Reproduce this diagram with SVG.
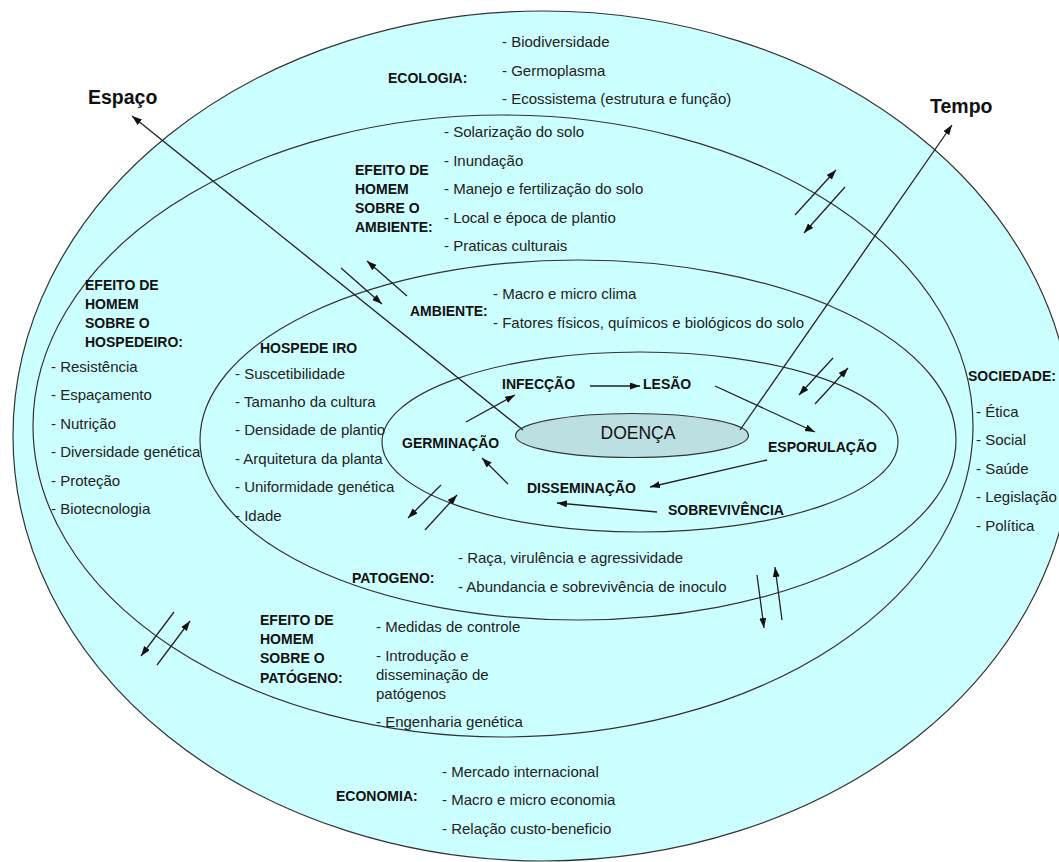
<svg xmlns="http://www.w3.org/2000/svg" width="1059" height="862" viewBox="0 0 1059 862">
<defs>
<marker id="ah" markerUnits="userSpaceOnUse" markerWidth="11" markerHeight="8" refX="10" refY="3.5" orient="auto">
<path d="M0,0 L10,3.5 L0,7 z" fill="#111"/>
</marker>
<style>
.ring{fill:#ccffff;stroke:#333;stroke-width:1.2}
.ln{fill:none;stroke:#222;stroke-width:1.3}
.ar{fill:none;stroke:#222;stroke-width:1.3;marker-end:url(#ah)}
.b{font-family:"Liberation Sans",Arial,sans-serif;font-weight:bold;font-size:14px;fill:#111}
.t{font-family:"Liberation Sans",Arial,sans-serif;font-size:15px;fill:#222}
.big{font-family:"Liberation Sans",Arial,sans-serif;font-weight:bold;font-size:19.5px;fill:#111}
</style>
</defs>
<rect width="1059" height="862" fill="#ffffff"/>

<g id="ring-sociedade">
<ellipse class="ring" cx="543" cy="436" rx="530" ry="425"/>
</g>
<g id="ring-efeito">
<ellipse class="ring" cx="503" cy="426" rx="470" ry="311"/>
</g>
<g id="ring-triangulo">
<ellipse class="ring" cx="578" cy="440" rx="378" ry="180"/>
</g>
<g id="ring-ciclo">
<ellipse class="ring" cx="640" cy="442" rx="258" ry="90"/>
</g>
<g id="doenca">
<ellipse cx="632" cy="435.5" rx="116.5" ry="22" fill="#bcdfe2" stroke="#333" stroke-width="1.2"/>
<text x="638" y="439" text-anchor="middle" font-family="Liberation Sans, Arial, sans-serif" font-size="17.5" fill="#111">DOENÇA</text>
</g>

<g id="connectors">
<line class="ar" x1="523" y1="430" x2="132" y2="116"/>
<line class="ar" x1="740" y1="430" x2="952" y2="125"/>
<line class="ar" x1="466" y1="422" x2="515" y2="395"/>
<line class="ar" x1="590" y1="386" x2="640" y2="386"/>
<line class="ar" x1="715" y1="386" x2="815" y2="432"/>
<line class="ar" x1="767" y1="460" x2="650" y2="487"/>
<line class="ar" x1="657" y1="512" x2="557" y2="503"/>
<line class="ar" x1="508" y1="484" x2="482" y2="458"/>
<line class="ar" x1="407" y1="296" x2="367" y2="261"/>
<line class="ar" x1="341" y1="268" x2="382" y2="304"/>
<line class="ar" x1="795" y1="215" x2="836" y2="170"/>
<line class="ar" x1="845" y1="187" x2="804" y2="233"/>
<line class="ar" x1="833" y1="358" x2="799" y2="395"/>
<line class="ar" x1="815" y1="404" x2="848" y2="368"/>
<line class="ar" x1="441" y1="485" x2="408" y2="518"/>
<line class="ar" x1="425" y1="530" x2="457" y2="495"/>
<line class="ar" x1="757" y1="575" x2="764" y2="628"/>
<line class="ar" x1="782" y1="620" x2="775" y2="567"/>
<line class="ar" x1="174" y1="612" x2="141" y2="656"/>
<line class="ar" x1="157" y1="665" x2="190" y2="621"/>
</g>

<g id="eixo-espaco"><text class="big" x="88" y="104">Espaço</text></g>
<g id="eixo-tempo"><text class="big" x="930" y="113">Tempo</text></g>

<g id="ecologia">
<text class="b" x="388" y="83">ECOLOGIA:</text>
<text class="t" x="502" y="47">- Biodiversidade</text>
<text class="t" x="502" y="75.5">- Germoplasma</text>
<text class="t" x="502" y="104">- Ecossistema (estrutura e função)</text>
</g>

<g id="efeito-ambiente">
<text class="b" x="355" y="175">EFEITO DE</text>
<text class="b" x="355" y="194">HOMEM</text>
<text class="b" x="355" y="213">SOBRE O</text>
<text class="b" x="355" y="232">AMBIENTE:</text>
<text class="t" x="444" y="137">- Solarização do solo</text>
<text class="t" x="444" y="165.5">- Inundação</text>
<text class="t" x="444" y="194">- Manejo e fertilização do solo</text>
<text class="t" x="444" y="222.5">- Local e época de plantio</text>
<text class="t" x="444" y="251">- Praticas culturais</text>
</g>

<g id="efeito-hospedeiro">
<text class="b" x="85" y="290">EFEITO DE</text>
<text class="b" x="85" y="309">HOMEM</text>
<text class="b" x="85" y="328">SOBRE O</text>
<text class="b" x="85" y="347">HOSPEDEIRO:</text>
<text class="t" x="51" y="372">- Resistência</text>
<text class="t" x="51" y="400">- Espaçamento</text>
<text class="t" x="51" y="428.5">- Nutrição</text>
<text class="t" x="51" y="457">- Diversidade genética</text>
<text class="t" x="51" y="485.5">- Proteção</text>
<text class="t" x="51" y="514">- Biotecnologia</text>
</g>

<g id="ambiente">
<text class="b" x="410" y="316">AMBIENTE:</text>
<text class="t" x="493" y="299">- Macro e micro clima</text>
<text class="t" x="493" y="328">- Fatores físicos, químicos e biológicos do solo</text>
</g>

<g id="hospedeiro">
<text class="b" x="260" y="353">HOSPEDE IRO</text>
<text class="t" x="235" y="378.5">- Suscetibilidade</text>
<text class="t" x="235" y="407">- Tamanho da cultura</text>
<text class="t" x="235" y="435">- Densidade de plantio</text>
<text class="t" x="235" y="463.5">- Arquitetura da planta</text>
<text class="t" x="235" y="492">- Uniformidade genética</text>
<text class="t" x="235" y="520.5">- Idade</text>
</g>

<g id="ciclo">
<text class="b" x="502" y="389">INFECÇÃO</text>
<text class="b" x="643" y="389">LESÃO</text>
<text class="b" x="768" y="452">ESPORULAÇÃO</text>
<text class="b" x="527" y="493">DISSEMINAÇÃO</text>
<text class="b" x="668" y="515">SOBREVIVÊNCIA</text>
<text class="b" x="402" y="448">GERMINAÇÃO</text>
</g>

<g id="patogeno">
<text class="b" x="352" y="583">PATOGENO:</text>
<text class="t" x="458" y="563">- Raça, virulência e agressividade</text>
<text class="t" x="458" y="592">- Abundancia e sobrevivência de inoculo</text>
</g>

<g id="efeito-patogeno">
<text class="b" x="260" y="625">EFEITO DE</text>
<text class="b" x="260" y="644">HOMEM</text>
<text class="b" x="260" y="663">SOBRE O</text>
<text class="b" x="260" y="682.5">PATÓGENO:</text>
<text class="t" x="376" y="631.5">- Medidas de controle</text>
<text class="t" x="376" y="660.5">- Introdução e</text>
<text class="t" x="376" y="679.5">disseminação de</text>
<text class="t" x="376" y="698.5">patógenos</text>
<text class="t" x="376" y="727">- Engenharia genética</text>
</g>

<g id="economia">
<text class="b" x="336" y="801">ECONOMIA:</text>
<text class="t" x="442" y="776.5">- Mercado internacional</text>
<text class="t" x="442" y="805">- Macro e micro economia</text>
<text class="t" x="442" y="834">- Relação custo-beneficio</text>
</g>

<g id="sociedade">
<text class="b" x="968" y="381">SOCIEDADE:</text>
<text class="t" x="976" y="416.5">- Ética</text>
<text class="t" x="976" y="445">- Social</text>
<text class="t" x="976" y="473.5">- Saúde</text>
<text class="t" x="976" y="502">- Legislação</text>
<text class="t" x="976" y="530.5">- Política</text>
</g>
</svg>
